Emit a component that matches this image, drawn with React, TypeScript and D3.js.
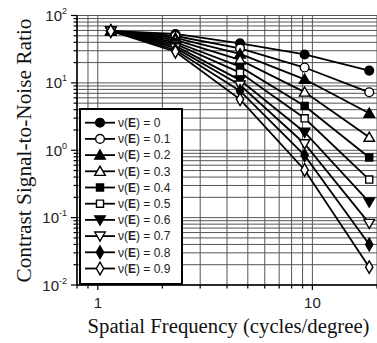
import React from "react";
import * as d3 from "d3";

// Spatial frequencies (cycles/degree)
const frequencies = [1.15, 2.3, 4.6, 9.2, 18.4];

// Noise correlation levels v(E)
const levels = ["0", "0.1", "0.2", "0.3", "0.4", "0.5", "0.6", "0.7", "0.8", "0.9"];

// Contrast SNR per level, one value per frequency
const snr0 = [58.9, 53.2, 38.7, 26.4, 15.2];
const snr1 = [58.9, 49.6, 32.6, 16.9, 7.25];
const snr2 = [58.9, 46.4, 26.9, 11.3, 3.54];
const snr3 = [58.9, 43.3, 21.9, 7.3, 1.56];
const snr4 = [58.9, 40.4, 17.4, 4.54, 0.78];
const snr5 = [58.9, 37.8, 14.2, 2.98, 0.367];
const snr6 = [58.9, 35.3, 11.0, 1.85, 0.17];
const snr7 = [58.9, 33.0, 9.3, 1.25, 0.082];
const snr8 = [58.9, 30.8, 7.6, 0.84, 0.04];
const snr9 = [58.9, 29.0, 5.7, 0.51, 0.0184];
const seriesValues = [snr0, snr1, snr2, snr3, snr4, snr5, snr6, snr7, snr8, snr9];

const yTickExponents = ["2", "1", "0", "-1", "-2"];
const xTickLabels = ["1", "10"];

type Marker = { shape: "circle" | "triangle" | "square" | "triDown" | "diamond"; filled: boolean };
const markers: Marker[] = [
  { shape: "circle", filled: true },
  { shape: "circle", filled: false },
  { shape: "triangle", filled: true },
  { shape: "triangle", filled: false },
  { shape: "square", filled: true },
  { shape: "square", filled: false },
  { shape: "triDown", filled: true },
  { shape: "triDown", filled: false },
  { shape: "diamond", filled: true },
  { shape: "diamond", filled: false },
];

const W = 377;
const H = 343;
const left = 77;
const right = 377;
const top = 15.5;
const bottom = 285;

const x = d3.scaleLog().domain([0.8, 20]).range([left, right]);
const y = d3.scaleLog().domain([0.01, 100]).range([bottom, top]);

function markerPath(shape: Marker["shape"]): string {
  const sym =
    shape === "circle"
      ? d3.symbolCircle
      : shape === "square"
      ? d3.symbolSquare
      : shape === "diamond"
      ? d3.symbolDiamond
      : d3.symbolTriangle;
  const size = shape === "circle" ? 60 : shape === "square" ? 50 : shape === "diamond" ? 46 : 48;
  return d3.symbol(sym, size)() as string;
}

function MarkerGlyph({ m, cx, cy }: { m: Marker; cx: number; cy: number }) {
  const rot = m.shape === "triDown" ? 180 : 0;
  const dy = m.shape === "triangle" ? 1 : m.shape === "triDown" ? -1 : 0;
  return (
    <path
      d={markerPath(m.shape)}
      transform={`translate(${cx},${cy + dy}) rotate(${rot})`}
      fill={m.filled ? "#000" : "#fff"}
      stroke="#000"
      strokeWidth={1.4}
    />
  );
}

export default function App() {
  const line = d3
    .line<number>()
    .x((_, i) => x(frequencies[i]))
    .y((v) => y(v));

  // grid values: 1..9 within each decade
  const xMinor: number[] = [];
  for (const dec of [0.1, 1, 10]) for (let k = 1; k <= 9; k++) {
    const v = +(k * dec).toFixed(4);
    if (v >= 0.8 && v <= 20) xMinor.push(v);
  }
  const yGrid: number[] = [];
  for (const dec of [0.01, 0.1, 1, 10]) for (let k = 1; k <= 9; k++) yGrid.push(+(k * dec).toFixed(5));
  yGrid.push(100);

  const legendX = 80;
  const legendY = 109;
  const rowH = 16.2;
  const serif = "'Liberation Serif', 'Times New Roman', serif";

  return (
    <svg
      width={W}
      height={H}
      style={{ position: "absolute", left: 0, top: 0, background: "#fff" }}
      fontFamily="'Liberation Sans', Arial, sans-serif"
    >
      {/* grid */}
      <g stroke="#555" strokeWidth={1}>
        {xMinor.map((v) => (
          <line key={"gx" + v} x1={x(v)} x2={x(v)} y1={top} y2={bottom} />
        ))}
        {yGrid.map((v) => (
          <line key={"gy" + v} x1={left} x2={right} y1={y(v)} y2={y(v)} />
        ))}
      </g>

      {/* axes */}
      <g stroke="#000" strokeWidth={1.5}>
        <line x1={left} x2={left} y1={top} y2={bottom} />
        <line x1={left} x2={right} y1={bottom} y2={bottom} />
      </g>
      <g stroke="#000" strokeWidth={1.2}>
        {yGrid.map((v) => {
          const major = Math.abs(Math.log10(v) - Math.round(Math.log10(v))) < 1e-6;
          return <line key={"ty" + v} x1={left - (major ? 6 : 3.5)} x2={left} y1={y(v)} y2={y(v)} />;
        })}
        {xMinor.map((v) => {
          const major = v === 1 || v === 10;
          return <line key={"tx" + v} x1={x(v)} x2={x(v)} y1={bottom} y2={bottom + (major ? 5 : 3.5)} />;
        })}
      </g>

      {/* y tick labels */}
      {yTickExponents.map((e) => {
        const yy = y(Math.pow(10, +e));
        return (
          <text key={"yl" + e} x={67} y={yy + 5.5} textAnchor="end" fontSize={15} fill="#222">
            10
            <tspan dy={-7} fontSize={9}>
              {e}
            </tspan>
          </text>
        );
      })}

      {/* x tick labels */}
      {xTickLabels.map((t) => (
        <text key={"xl" + t} x={x(+t)} y={308} textAnchor="middle" fontSize={15} fill="#222">
          {t}
        </text>
      ))}

      {/* series lines */}
      <g fill="none" stroke="#000" strokeWidth={1.8}>
        {seriesValues.map((vals, i) => (
          <path key={"ln" + i} d={line(vals) as string} />
        ))}
      </g>
      {/* series markers */}
      {seriesValues.map((vals, i) => (
        <g key={"mk" + i}>
          {vals.map((v, j) => (
            <MarkerGlyph key={j} m={markers[i]} cx={x(frequencies[j])} cy={y(v)} />
          ))}
        </g>
      ))}

      {/* legend */}
      <rect
        x={legendX}
        y={legendY}
        width={102}
        height={175}
        fill="#fff"
        stroke="#000"
        strokeWidth={2}
      />
      {levels.map((lv, i) => {
        const cy = legendY + 13.7 + i * rowH;
        return (
          <g key={"lg" + i}>
            <line x1={85} x2={115} y1={cy} y2={cy} stroke="#000" strokeWidth={1.8} />
            <MarkerGlyph m={markers[i]} cx={100} cy={cy} />
            <text x={118} y={cy + 4.3} fontSize={12} fill="#222">
              ν(<tspan fontWeight="bold">E</tspan>) = {lv}
            </text>
          </g>
        );
      })}

      {/* axis titles */}
      <text
        x={228.5}
        y={333}
        textAnchor="middle"
        fontFamily={serif}
        fontSize={20}
        textLength={282}
        lengthAdjust="spacingAndGlyphs"
        fill="#111"
      >
        Spatial Frequency (cycles/degree)
      </text>
      <text
        transform={`translate(31,150.5) rotate(-90)`}
        textAnchor="middle"
        fontFamily={serif}
        fontSize={20}
        textLength={264}
        lengthAdjust="spacingAndGlyphs"
        fill="#111"
      >
        Contrast Signal-to-Noise Ratio
      </text>
    </svg>
  );
}
